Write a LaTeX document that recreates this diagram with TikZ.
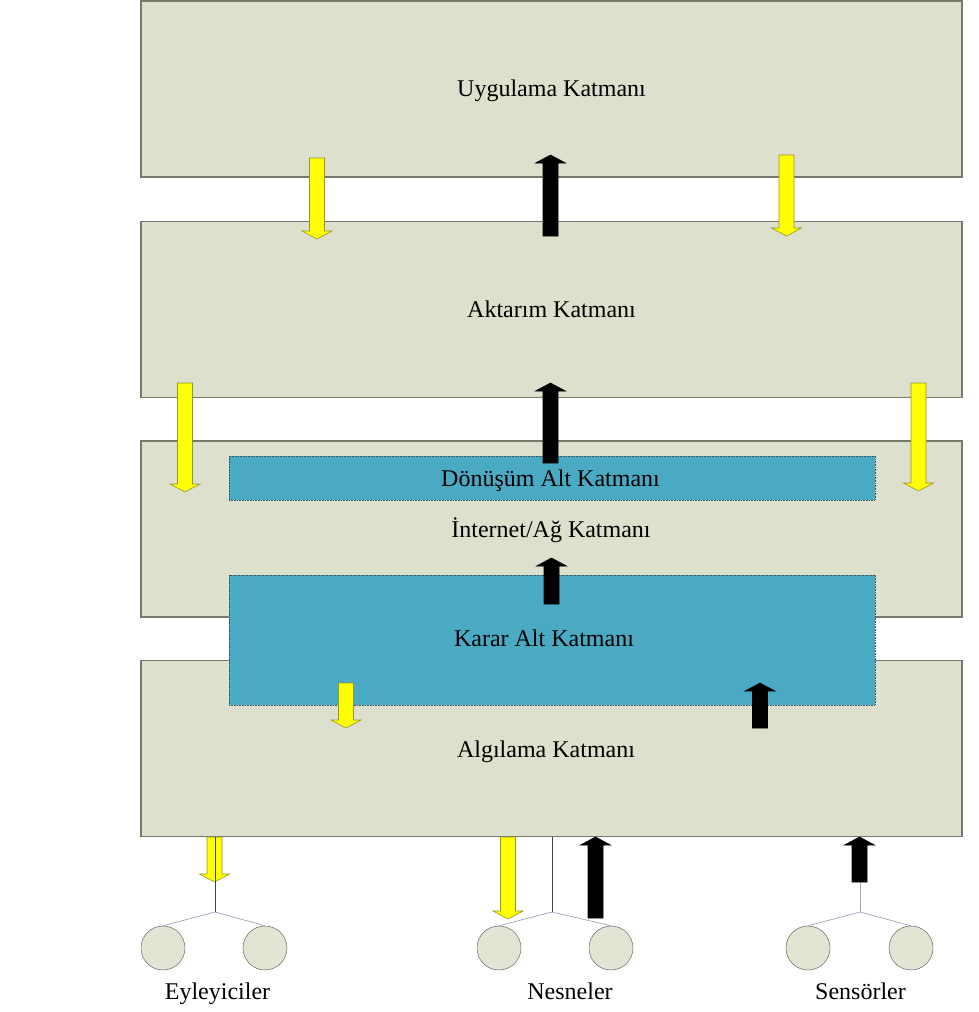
\documentclass[tikz,border=0pt]{standalone}
\usepackage{fontspec}
\setmainfont{Liberation Serif}
\definecolor{layerfill}{RGB}{221,224,204}
\definecolor{layerline}{RGB}{118,122,108}
\definecolor{subfill}{RGB}{74,170,196}
\definecolor{subline}{RGB}{55,85,95}
\definecolor{flowyellow}{RGB}{255,255,0}
\definecolor{yellowline}{RGB}{150,150,40}
\definecolor{forkline}{RGB}{140,155,175}
\definecolor{circfill}{RGB}{226,229,212}

% block arrow pointing down: x centre, top, tip
\newcommand\downflow[3]{%
  \filldraw[fill=flowyellow, draw=yellowline, line width=0.6pt]
    (#1-7.5,#2) -- (#1+7.5,#2) -- (#1+7.5,#3-8) -- (#1+15,#3-8) -- (#1,#3)
    -- (#1-15,#3-8) -- (#1-7.5,#3-8) -- cycle;}
% block arrow pointing up: x centre, bottom, tip
\newcommand\upflow[3]{%
  \filldraw[fill=black, draw=black, line width=0.6pt]
    (#1-7.5,#2) -- (#1+7.5,#2) -- (#1+7.5,#3+8) -- (#1+15,#3+8) -- (#1,#3)
    -- (#1-15,#3+8) -- (#1-7.5,#3+8) -- cycle;}

\begin{document}
\begin{tikzpicture}[x=1pt, y=-1pt,
  layerbox/.style={draw=layerline, fill=layerfill, line width=1.2pt,
    minimum width=821pt, minimum height=176pt, inner sep=0pt, outer sep=0pt},
  subbox/.style={draw=subline, fill=subfill, densely dotted, line width=0.6pt,
    minimum width=646pt, inner sep=0pt, outer sep=0pt},
  lbl/.style={font=\fontsize{24}{28}\selectfont, anchor=base, inner sep=0pt},
  device/.style={circle, draw=gray!80!black, fill=circfill, line width=0.5pt,
    minimum size=44pt, inner sep=0pt},
  stem/.style={draw=black!75, line width=0.5pt},
  fork/.style={draw=forkline, line width=0.6pt}]

\useasboundingbox (0,0) rectangle (979,1012);

% main layers
\node[layerbox] (uyg) at (551.5,89) {};
\node[layerbox] (akt) at (551.5,309.5) {};
\node[layerbox] (net) at (551.5,529) {};
\node[layerbox] (alg) at (551.5,748.5) {};

% sub-layers
\node[subbox, minimum height=44pt] (don) at (552,478) {};
\node[subbox, minimum height=130pt] (kar) at (552,640) {};

% layer names
\node[lbl] (tuyg) at (551.5,96) {Uygulama Katmanı};
\node[lbl] (takt) at (551.5,317) {Aktarım Katmanı};
\node[lbl] (tdon) at (550.5,486) {Dönüşüm Alt Katmanı};
\node[lbl] (tnet) at (551,537) {İnternet/Ağ Katmanı};
\node[lbl] (tkar) at (544,646) {Karar Alt Katmanı};
\node[lbl] (talg) at (546,757) {Algılama Katmanı};

% flows between layers
\downflow{317}{158}{239}
\upflow{550.5}{236}{155}
\downflow{786.5}{155}{236}
\downflow{185}{383}{492}
\upflow{550.5}{463}{383}
\downflow{918.5}{383}{491}
\upflow{551.5}{604}{558}
\downflow{346}{683}{728}
\upflow{760}{728}{683}

% devices below the sensing layer
\node[device] (ey1) at (163,948) {};
\node[device] (ey2) at (265,948) {};
\node[device] (ne1) at (499,948) {};
\node[device] (ne2) at (611,948) {};
\node[device] (se1) at (808,948) {};
\node[device] (se2) at (911,948) {};

\coordinate (eyf) at (215,912);
\coordinate (nef) at (552,912);
\coordinate (sef) at (860,912);

\downflow{214.5}{837}{882}
\downflow{508}{837}{919}
\path[stem, draw=black!35] (alg.south -| sef) -- (sef);
\upflow{595.5}{918}{837}
\upflow{859.5}{882}{837}

\path[stem] (alg.south -| eyf) -- (eyf);
\path[stem] (alg.south -| nef) -- (nef);

\path[fork] (eyf) -- (ey1.north) (eyf) -- (ey2.north);
\path[fork] (nef) -- (ne1.north) (nef) -- (ne2.north);
\path[fork] (sef) -- (se1.north) (sef) -- (se2.north);

% group names
\node[lbl] (tey) at (217.5,999) {Eyleyiciler};
\node[lbl] (tne) at (570,999) {Nesneler};
\node[lbl] (tse) at (860.5,999) {Sensörler};
\end{tikzpicture}
\end{document}
